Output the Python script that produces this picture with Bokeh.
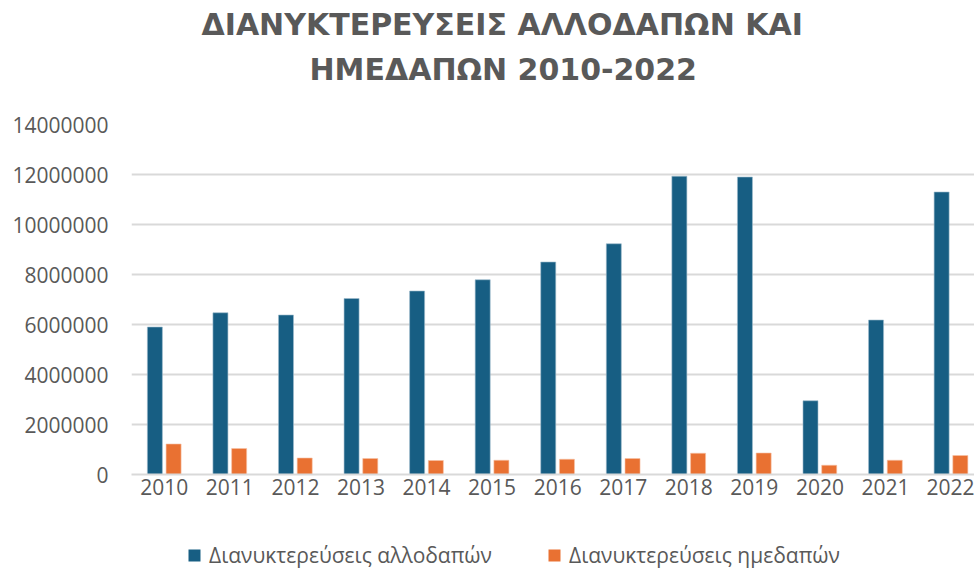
from bokeh.plotting import figure
from bokeh.layouts import column
from bokeh.models import (FixedTicker, BasicTickFormatter, Legend, LegendItem,
                          Title, Range1d, ColumnDataSource)
from bokeh.transform import dodge
from bokeh.embed import file_html
from bokeh.resources import INLINE

# ---- data ----
years = [2010, 2011, 2012, 2013, 2014, 2015, 2016, 2017, 2018, 2019, 2020, 2021, 2022]
foreign = [5900000, 6470000, 6380000, 7040000, 7340000, 7790000, 8500000,
           9230000, 11930000, 11900000, 2950000, 6180000, 11300000]
domestic = [1220000, 1040000, 660000, 640000, 560000, 570000, 610000,
            640000, 850000, 860000, 370000, 570000, 760000]
series_names = ["Διανυκτερεύσεις αλλοδαπών", "Διανυκτερεύσεις ημεδαπών"]
title_lines = ["ΔΙΑΝΥΚΤΕΡΕΥΣΕΙΣ ΑΛΛΟΔΑΠΩΝ ΚΑΙ", "ΗΜΕΔΑΠΩΝ 2010-2022"]
y_ticks = [0, 2000000, 4000000, 6000000, 8000000, 10000000, 12000000, 14000000]

BLUE = "#175e83"
ORANGE = "#e97132"
GREY_TXT = "#595959"
GRID = "#d9d9d9"
FONT = "Open Sans"
TITLE_FONT = "DejaVu Sans"

src = ColumnDataSource(dict(year=years, foreign=foreign, domestic=domestic))

p = figure(width=974, height=520, output_backend="svg", toolbar_location=None,
           x_range=Range1d(2009.5, 2022.358), y_range=Range1d(0, 14000000),
           min_border_left=131, min_border_right=0, min_border_top=122,
           min_border_bottom=46)
p.outline_line_color = None
p.background_fill_color = "white"
p.border_fill_color = "white"

r1 = p.vbar(x=dodge("year", -0.1435), top="foreign", width=0.229, source=src,
            fill_color=BLUE, line_color="#9fbccd", line_width=0.6)
r2 = p.vbar(x=dodge("year", 0.142), top="domestic", width=0.229, source=src,
            fill_color=ORANGE, line_color="#f6c1a4", line_width=0.6)

# axes
p.xaxis.ticker = FixedTicker(ticks=years)
p.xaxis.major_tick_line_color = None
p.xaxis.minor_tick_line_color = None
p.xaxis.axis_line_color = GRID
p.xaxis.axis_line_width = 2
p.xaxis.major_label_text_font = FONT
p.xaxis.major_label_text_font_size = "21px"
p.xaxis.major_label_text_color = GREY_TXT
p.xaxis.major_label_standoff = -2

p.yaxis.ticker = FixedTicker(ticks=y_ticks)
p.yaxis.formatter = BasicTickFormatter(use_scientific=False)
p.yaxis.major_tick_line_color = None
p.yaxis.minor_tick_line_color = None
p.yaxis.axis_line_color = None
p.yaxis.major_label_text_font = FONT
p.yaxis.major_label_text_font_size = "21px"
p.yaxis.major_label_text_color = GREY_TXT
p.yaxis.major_label_standoff = 17

p.xgrid.grid_line_color = None
p.ygrid.ticker = FixedTicker(ticks=y_ticks)
p.ygrid.grid_line_color = GRID
p.ygrid.grid_line_width = 2

# titles: spacer nearest the plot, then line 2, then line 1
spacer = Title(text=" ", text_font=TITLE_FONT, text_font_size="10px",
               standoff=21, text_color="white")
t2 = Title(text=title_lines[1], align="left", offset=178,
           text_font=TITLE_FONT, text_font_style="bold", text_font_size="30px",
           text_color=GREY_TXT, standoff=8)
t1 = Title(text=title_lines[0], align="left", offset=70,
           text_font=TITLE_FONT, text_font_style="bold", text_font_size="30px",
           text_color=GREY_TXT, standoff=8)
p.add_layout(spacer, "above")
p.add_layout(t2, "above")
p.add_layout(t1, "above")

# legend strip below the chart (its frame is aligned with the chart frame)
p2 = figure(width=974, height=52, output_backend="svg", toolbar_location=None,
            x_range=Range1d(0, 974), y_range=Range1d(0, 52),
            x_axis_location=None, y_axis_location=None,
            min_border=0)
p2.outline_line_color = None
p2.grid.visible = False
# legend-key renderers (square markers), placed outside the visible range
lr1 = p2.scatter(x=[-500], y=[1], marker="square", size=12,
                 fill_color=BLUE, line_color=None)
lr2 = p2.scatter(x=[-500], y=[1], marker="square", size=12,
                 fill_color=ORANGE, line_color=None)

legend = Legend(items=[LegendItem(label=series_names[0], renderers=[lr1]),
                       LegendItem(label=series_names[1], renderers=[lr2])],
                orientation="horizontal", location=(48, 2),
                label_text_font=FONT, label_text_font_size="21px",
                label_text_color=GREY_TXT, glyph_width=30, glyph_height=30,
                label_standoff=-5, spacing=47, padding=0, margin=0,
                border_line_color=None, background_fill_alpha=0)
p2.add_layout(legend)

layout = column(p, p2, spacing=0)
open("out.html", "w").write(file_html(layout, INLINE))
